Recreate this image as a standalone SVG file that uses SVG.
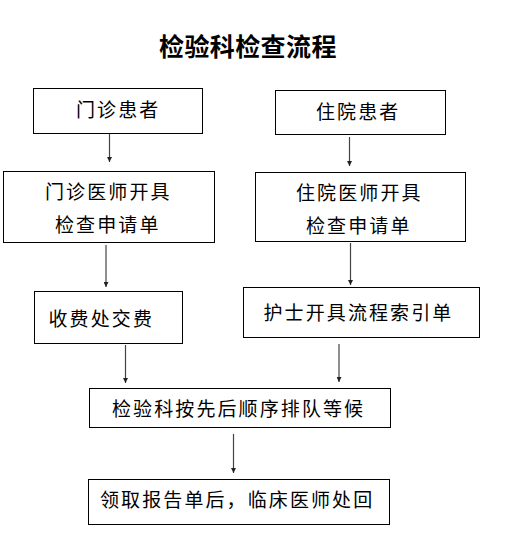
<svg xmlns="http://www.w3.org/2000/svg" width="507" height="557" viewBox="0 0 507 557">
<defs>
<style>
.box{fill:#fff;stroke:#000;stroke-width:1}
.t{font-family:"Liberation Sans","Noto Sans CJK SC",sans-serif;font-size:19px;letter-spacing:2.1px;fill:#000}
.title{font-family:"Liberation Sans","Noto Sans CJK SC",sans-serif;font-size:25px;font-weight:bold;letter-spacing:0.4px;fill:#000}
.c{stroke:#444;stroke-width:1.2;fill:none;marker-end:url(#ah)}
</style>
<marker id="ah" viewBox="0 0 8 8" refX="8" refY="4" markerWidth="5" markerHeight="5" markerUnits="userSpaceOnUse" orient="auto">
<path d="M0,0 L8,4 L0,8 Z" fill="#222"/>
</marker>
</defs>
<rect width="507" height="557" fill="#fff"/>
<text class="title" x="159" y="56">检验科检查流程</text>
<g id="connectors">
<line class="c" x1="109.5" y1="134" x2="109.5" y2="162"/>
<line class="c" x1="349.5" y1="137" x2="349.5" y2="166"/>
<line class="c" x1="106" y1="245" x2="106" y2="287"/>
<line class="c" x1="350.5" y1="243" x2="350.5" y2="285"/>
<line class="c" x1="125.5" y1="345" x2="125.5" y2="383"/>
<line class="c" x1="339" y1="344" x2="339" y2="382"/>
<line class="c" x1="233.5" y1="434" x2="233.5" y2="473"/>
</g>
<g id="n1"><rect class="box" x="33.5" y="88.5" width="169" height="45"/><text class="t" x="76" y="117">门诊患者</text></g>
<g id="n2"><rect class="box" x="275.5" y="90.5" width="170" height="44"/><text class="t" x="316" y="119">住院患者</text></g>
<g id="n3"><rect class="box" x="3.5" y="171.5" width="211" height="71"/><text class="t" x="45" y="199">门诊医师开具</text><text class="t" x="55" y="232">检查申请单</text></g>
<g id="n4"><rect class="box" x="255.5" y="172.5" width="210" height="69"/><text class="t" x="296" y="200">住院医师开具</text><text class="t" x="306" y="233">检查申请单</text></g>
<g id="n5"><rect class="box" x="34.5" y="291.5" width="148" height="52"/><text class="t" x="48.5" y="326">收费处交费</text></g>
<g id="n6"><rect class="box" x="243.5" y="287.5" width="236" height="50"/><text class="t" x="263.5" y="320">护士开具流程索引单</text></g>
<g id="n7"><rect class="box" x="89.5" y="388.5" width="301" height="39"/><text class="t" x="112" y="415.5">检验科按先后顺序排队等候</text></g>
<g id="n8"><rect class="box" x="88.5" y="479.5" width="301" height="45"/><text class="t" x="100" y="506.5">领取报告单后，临床医师处回</text></g>
</svg>
